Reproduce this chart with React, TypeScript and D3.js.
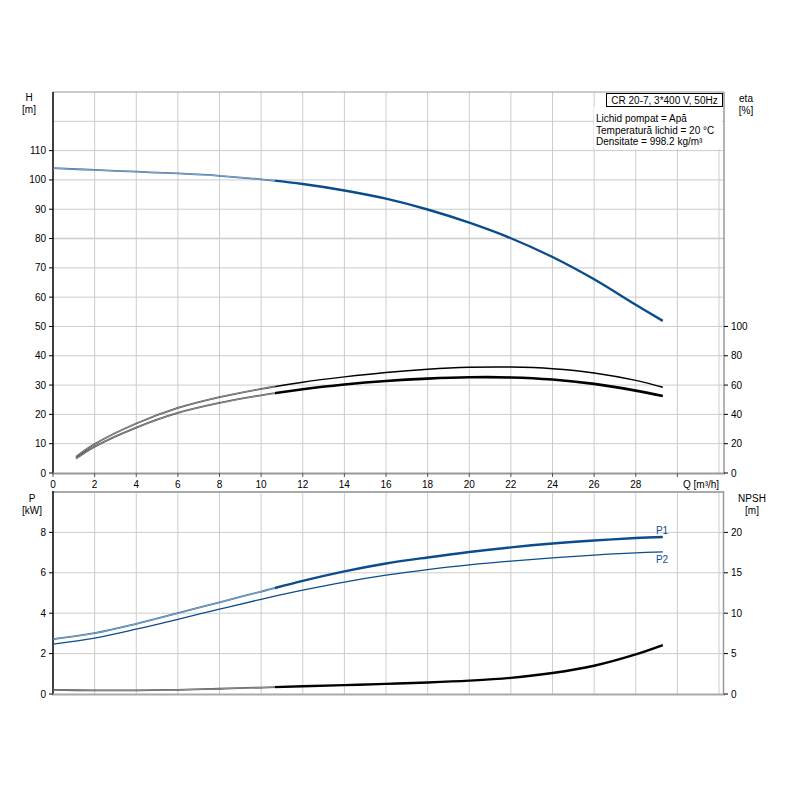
import React from 'react';
import * as d3 from 'd3';

// pump curve data
const qH = [0, 2, 4, 6, 8, 10, 12, 14, 16, 18, 20, 22, 24, 26, 28, 29.3];
const headH = [104, 103.4, 102.8, 102.2, 101.4, 100.2, 98.6, 96.4, 93.6, 89.9, 85.4, 80.1, 73.7, 66.1, 57.4, 51.9];

const qEta = [1.1, 2, 4, 6, 8, 10, 12, 14, 16, 18, 20, 22, 24, 26, 28, 29.3];
const etaUpper = [11, 19.8, 33.8, 44.4, 51.8, 57.4, 62, 65.6, 68.6, 70.8, 72.1, 72.3, 71.2, 68.3, 63.2, 58.5];
const etaLower = [9.8, 18, 31, 41, 47.8, 53, 57.2, 60.4, 62.8, 64.4, 65.3, 65.2, 63.8, 60.8, 56.2, 52.6];

const qP = [0, 2, 4, 6, 8, 10, 12, 14, 16, 18, 20, 22, 24, 26, 28, 29.3];
const powerP1 = [2.72, 3.01, 3.47, 4.0, 4.54, 5.07, 5.6, 6.07, 6.46, 6.76, 7.03, 7.26, 7.45, 7.6, 7.72, 7.77];
const powerP2 = [2.47, 2.77, 3.21, 3.7, 4.2, 4.69, 5.14, 5.54, 5.88, 6.16, 6.39, 6.58, 6.74, 6.88, 6.99, 7.04];
const npsh = [0.5, 0.45, 0.45, 0.52, 0.65, 0.8, 0.95, 1.1, 1.25, 1.42, 1.65, 2.0, 2.6, 3.5, 4.9, 6.05];

const qTicks = d3.range(0, 30, 2);
const qGrid = d3.range(2, 33, 2);
const hTicks = d3.range(0, 111, 10);
const hGrid = d3.range(10, 131, 10);
const etaTicks = d3.range(0, 101, 20);
const pTicks = [0, 2, 4, 6, 8];
const pGrid = [2, 4, 6, 8, 10];
const npshTicks = [0, 5, 10, 15, 20];

const infoTitle = 'CR 20-7, 3*400 V, 50Hz';
const infoLines = ['Lichid pompat = Apă', 'Temperatură lichid = 20 °C', 'Densitate = 998.2 kg/m³'];

const Q_BEST = 10.66; // thick part of the curves starts here

const BLUE = '#0b4c8c';
const GRID = '#cccccc';
const FONT = 'Arial, "Liberation Sans", sans-serif';

const App: React.FC = () => {
  const x = d3.scaleLinear().domain([0, 32.24]).range([53, 724]);
  const yH = d3.scaleLinear().domain([0, 130]).range([473, 92]);
  const yEta = d3.scaleLinear().domain([0, 260]).range([473, 92]);
  const yP = d3.scaleLinear().domain([0, 10]).range([694, 492]);
  const yN = d3.scaleLinear().domain([0, 25]).range([694, 492]);

  const mkLine = (qs: number[], vs: number[], y: d3.ScaleLinear<number, number>) =>
    d3.line<number>()
      .x((_, i) => x(qs[i]))
      .y(d => y(d))
      .curve(d3.curveCatmullRom.alpha(0.5))(vs) ?? '';

  const hPath = mkLine(qH, headH, yH);
  const etaUPath = mkLine(qEta, etaUpper, yEta);
  const etaLPath = mkLine(qEta, etaLower, yEta);
  const p1Path = mkLine(qP, powerP1, yP);
  const p2Path = mkLine(qP, powerP2, yP);
  const nPath = mkLine(qP, npsh, yN);

  // thin part drawn as a hollow double line, like the datasheet
  const hollow = (d: string, color: string) => (
    <g>
      <path d={d} fill="none" stroke={color} strokeWidth={1.8} opacity={0.85} />
      <path d={d} fill="none" stroke="#ffffff" strokeWidth={0.6} opacity={0.7} />
    </g>
  );

  const txt = { fontFamily: FONT, fontSize: 10, fill: '#000' };

  return (
    <svg width={800} height={800} style={{ position: 'absolute', left: 0, top: 0, background: '#fff' }}>
      <defs>
        <clipPath id="bestClip">
          <rect x={x(Q_BEST)} y={0} width={800} height={800} />
        </clipPath>
        <clipPath id="thinClip">
          <rect x={0} y={0} width={x(Q_BEST)} height={800} />
        </clipPath>
      </defs>

      {/* ---------- top chart: H and eta ---------- */}
      {qGrid.map(q => (
        <line key={'vt' + q} x1={x(q)} x2={x(q)} y1={92} y2={473} stroke={GRID} strokeWidth={1} />
      ))}
      {hGrid.map(h => (
        <line key={'ht' + h} x1={53} x2={724} y1={yH(h)} y2={yH(h)} stroke={h === 130 ? '#999' : GRID} strokeWidth={h === 80 ? 1.5 : 1} />
      ))}

      {/* info text */}
      <rect x={594} y={107} width={128} height={42} fill="#fff" />
      <rect x={606.5} y={93.5} width={116} height={13} fill="#fff" stroke="#000" strokeWidth={1} />
      <text x={664.5} y={103.5} textAnchor="middle" style={txt}>{infoTitle}</text>
      {infoLines.map((s, i) => (
        <text key={s} x={596} y={122 + i * 11.7} style={txt}>{s}</text>
      ))}

      {/* axes */}
      <line x1={53} x2={53} y1={92} y2={474} stroke="#000" strokeWidth={1.5} />
      <line x1={52} x2={725} y1={473.5} y2={473.5} stroke="#999" strokeWidth={2} />
      <line x1={724} x2={724} y1={92} y2={474} stroke="#999" strokeWidth={1.5} />
      {hTicks.map(h => (
        <g key={'hl' + h}>
          <line x1={49} x2={53} y1={yH(h)} y2={yH(h)} stroke="#000" />
          <text x={46} y={yH(h) + 3.5} textAnchor="end" style={txt}>{h}</text>
        </g>
      ))}
      {etaTicks.map(e => (
        <g key={'el' + e}>
          <line x1={724} x2={728} y1={yEta(e)} y2={yEta(e)} stroke="#000" />
          <text x={731} y={yEta(e) + 3.5} style={txt}>{e}</text>
        </g>
      ))}
      {qTicks.concat([30]).map(q => (
        <line key={'qt' + q} x1={x(q)} x2={x(q)} y1={473} y2={477} stroke="#555" />
      ))}
      {qTicks.map(q => (
        <text key={'ql' + q} x={x(q)} y={488} textAnchor="middle" style={txt}>{q}</text>
      ))}
      <text x={683} y={488} style={txt}>Q [m³/h]</text>

      <text x={29} y={101} textAnchor="middle" style={txt}>H</text>
      <text x={29} y={113} textAnchor="middle" style={txt}>[m]</text>
      <text x={746} y={102} textAnchor="middle" style={txt}>eta</text>
      <text x={746} y={114} textAnchor="middle" style={txt}>[%]</text>

      {/* curves */}
      <g clipPath="url(#thinClip)">
        {hollow(hPath, BLUE)}
        {hollow(etaUPath, '#222')}
        {hollow(etaLPath, '#222')}
      </g>
      <g clipPath="url(#bestClip)">
        <path d={hPath} fill="none" stroke={BLUE} strokeWidth={2.4} />
        <path d={etaUPath} fill="none" stroke="#000" strokeWidth={1.5} />
        <path d={etaLPath} fill="none" stroke="#000" strokeWidth={2.6} />
      </g>

      {/* ---------- bottom chart: P and NPSH ---------- */}
      {qGrid.map(q => (
        <line key={'vb' + q} x1={x(q)} x2={x(q)} y1={492} y2={694} stroke={GRID} strokeWidth={1} />
      ))}
      {pGrid.map(p => (
        <line key={'hb' + p} x1={53} x2={724} y1={yP(p)} y2={yP(p)} stroke={p === 10 ? '#aaa' : GRID} strokeWidth={p === 10 ? 2 : 1} />
      ))}
      <line x1={53} x2={53} y1={491} y2={695} stroke="#000" strokeWidth={1.5} />
      <line x1={52} x2={725} y1={694.5} y2={694.5} stroke="#aaa" strokeWidth={2} />
      <line x1={723.5} x2={723.5} y1={491} y2={695} stroke="#999" strokeWidth={1.5} />
      {pTicks.map(p => (
        <g key={'pl' + p}>
          <line x1={49} x2={53} y1={yP(p)} y2={yP(p)} stroke="#000" />
          <text x={46} y={yP(p) + 3.5} textAnchor="end" style={txt}>{p}</text>
        </g>
      ))}
      {npshTicks.map(n => (
        <g key={'nl' + n}>
          <line x1={724} x2={728} y1={yN(n)} y2={yN(n)} stroke="#000" />
          <text x={731} y={yN(n) + 3.5} style={txt}>{n}</text>
        </g>
      ))}
      <text x={32} y={502} textAnchor="middle" style={txt}>P</text>
      <text x={32} y={514} textAnchor="middle" style={txt}>[kW]</text>
      <text x={752} y={502} textAnchor="middle" style={txt}>NPSH</text>
      <text x={752} y={514} textAnchor="middle" style={txt}>[m]</text>

      <path d={p2Path} fill="none" stroke={BLUE} strokeWidth={1.3} />
      <g clipPath="url(#thinClip)">
        {hollow(p1Path, BLUE)}
        {hollow(nPath, '#222')}
      </g>
      <g clipPath="url(#bestClip)">
        <path d={p1Path} fill="none" stroke={BLUE} strokeWidth={2.4} />
        <path d={nPath} fill="none" stroke="#000" strokeWidth={2.4} />
      </g>
      <text x={662} y={534} textAnchor="middle" style={{ ...txt, fill: BLUE }}>P1</text>
      <text x={662} y={563} textAnchor="middle" style={{ ...txt, fill: BLUE }}>P2</text>
    </svg>
  );
};

export default App;
